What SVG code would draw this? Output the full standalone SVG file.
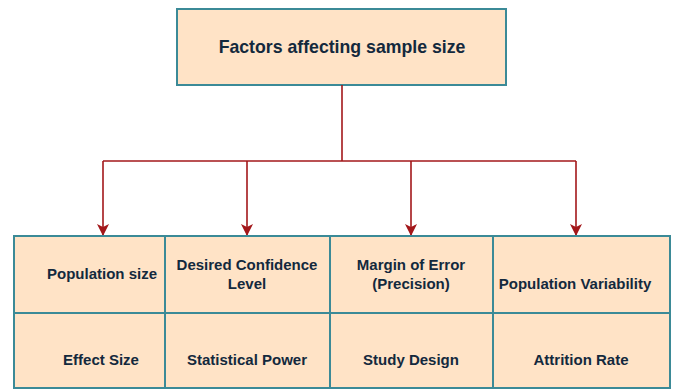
<svg xmlns="http://www.w3.org/2000/svg" width="676" height="389" viewBox="0 0 676 389">
<style>
.box{fill:#ffe3c6;stroke:#3b8a97;stroke-width:2}
.t{font-family:"Liberation Sans",Arial,sans-serif;font-weight:bold;fill:#13293d;text-anchor:middle}
.c{font-size:15px}
.title{font-size:17.7px}
.wire{fill:none;stroke:#a3171a;stroke-width:1.6}
</style>
<defs>
<marker id="ah" viewBox="0 0 12 12" refX="11" refY="6" markerWidth="12" markerHeight="12" markerUnits="userSpaceOnUse" orient="auto">
<path d="M0,0 L3,6 L0,12 L12,6 Z" fill="#a3171a"/>
</marker>
</defs>
<g id="title-node">
<rect class="box" x="177" y="9" width="329" height="76"/>
<text class="t title" x="342" y="53">Factors affecting sample size</text>
</g>
<g id="connectors">
<path class="wire" d="M342,85 V161"/>
<path class="wire" d="M103,161 H576"/>
<path class="wire" d="M103,161 V235" marker-end="url(#ah)"/>
<path class="wire" d="M247,161 V235" marker-end="url(#ah)"/>
<path class="wire" d="M411,161 V235" marker-end="url(#ah)"/>
<path class="wire" d="M576,161 V235" marker-end="url(#ah)"/>
</g>
<g id="population-size">
<rect class="box" x="14" y="236" width="151" height="77"/>
<text class="t c" x="102" y="279">Population size</text>
</g>
<g id="desired-confidence-level">
<rect class="box" x="165" y="236" width="165" height="77"/>
<text class="t c" x="247" y="270">Desired Confidence</text>
<text class="t c" x="247" y="289">Level</text>
</g>
<g id="margin-of-error">
<rect class="box" x="330" y="236" width="163" height="77"/>
<text class="t c" x="411" y="270">Margin of Error</text>
<text class="t c" x="411" y="289">(Precision)</text>
</g>
<g id="population-variability">
<rect class="box" x="493" y="236" width="177" height="77"/>
<text class="t c" x="575" y="289">Population Variability</text>
</g>
<g id="effect-size">
<rect class="box" x="14" y="313" width="151" height="75"/>
<text class="t c" x="101" y="365">Effect Size</text>
</g>
<g id="statistical-power">
<rect class="box" x="165" y="313" width="165" height="75"/>
<text class="t c" x="247" y="365">Statistical Power</text>
</g>
<g id="study-design">
<rect class="box" x="330" y="313" width="163" height="75"/>
<text class="t c" x="411" y="365">Study Design</text>
</g>
<g id="attrition-rate">
<rect class="box" x="493" y="313" width="177" height="75"/>
<text class="t c" x="581" y="365">Attrition Rate</text>
</g>
</svg>
